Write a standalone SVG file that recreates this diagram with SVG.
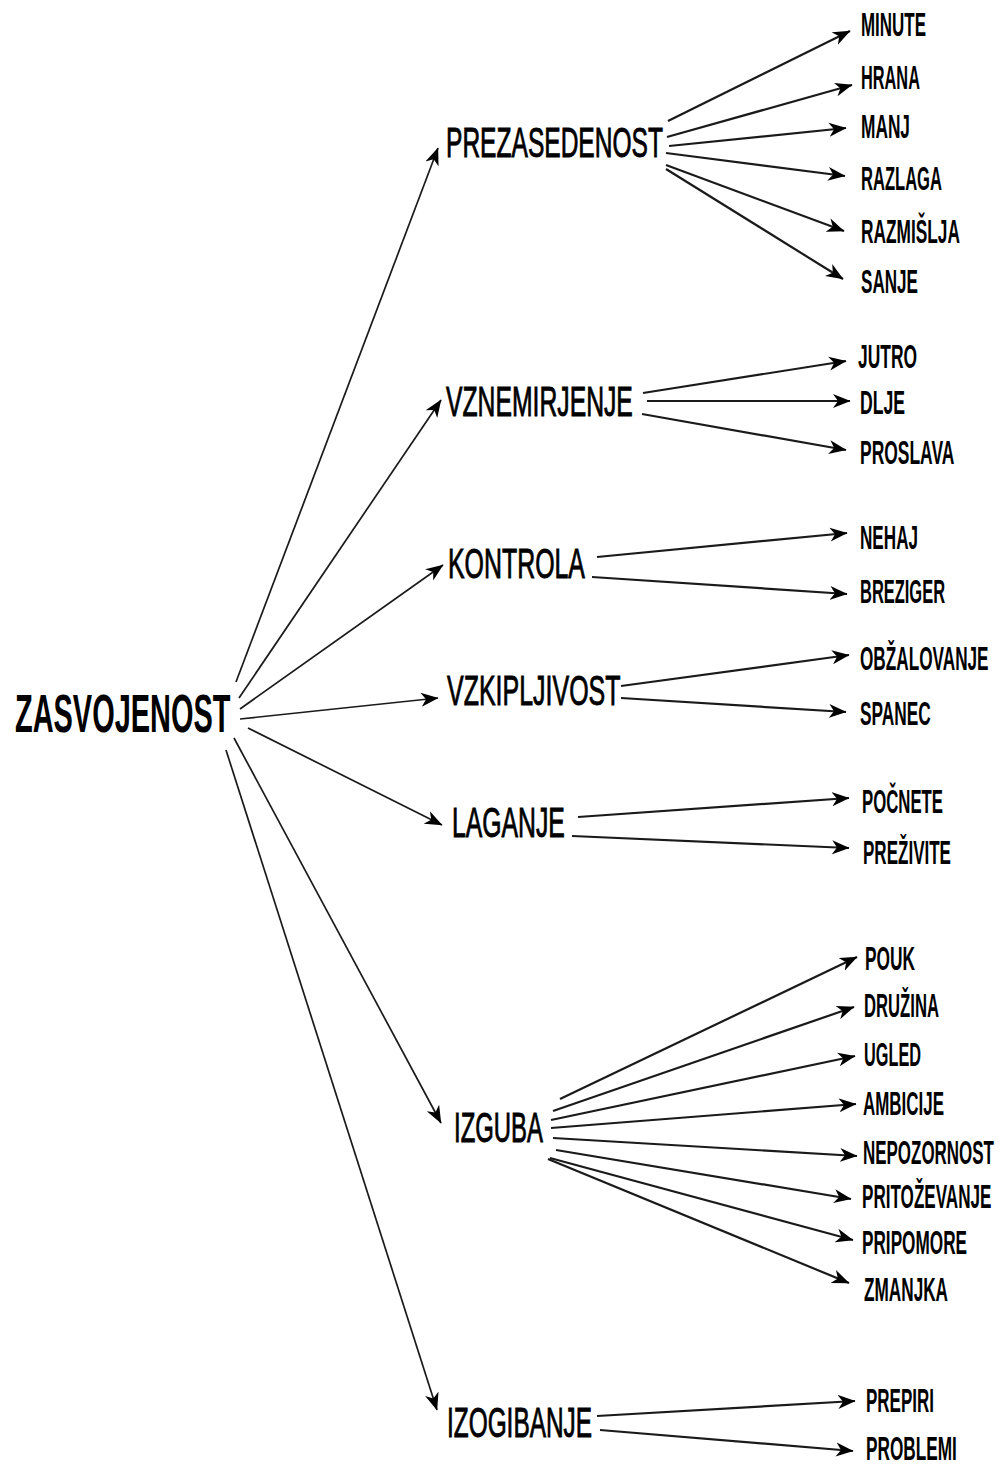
<svg xmlns="http://www.w3.org/2000/svg" width="1000" height="1468" viewBox="0 0 1000 1468">
<style>
text{font-family:"Liberation Sans",Arial,sans-serif;fill:#000;font-weight:bold}
.root{font-size:53px}
.mid{font-size:42px;font-weight:normal;stroke:#000;stroke-width:0.9px}
.leaf{font-size:33px}
.c line{stroke:#1a1a1a;stroke-width:2.2;fill:none;marker-end:url(#ah)}
.c .m{stroke-width:1.7}
</style>
<defs>
<marker id="ah" markerUnits="userSpaceOnUse" markerWidth="19" markerHeight="15" refX="17" refY="7.5" orient="auto">
<path d="M0,0.5 L17.5,7.5 L0,14.5 L5,7.5 Z" fill="#000"/>
</marker>
</defs>
<rect width="1000" height="1468" fill="#fff"/>
<g id="connectors" class="c">
<line class="m" x1="236" y1="682" x2="438" y2="148"/>
<line class="m" x1="239" y1="698" x2="441" y2="400"/>
<line class="m" x1="240" y1="709" x2="443" y2="565"/>
<line class="m" x1="240" y1="719" x2="438" y2="698"/>
<line class="m" x1="248" y1="728" x2="442" y2="825"/>
<line class="m" x1="234" y1="738" x2="441" y2="1123"/>
<line class="m" x1="226" y1="750" x2="437" y2="1410"/>
<line x1="668" y1="121" x2="850" y2="31"/>
<line x1="667" y1="137" x2="852" y2="85"/>
<line x1="669" y1="146" x2="846" y2="128"/>
<line x1="666" y1="153" x2="845" y2="176"/>
<line x1="666" y1="165" x2="844" y2="231"/>
<line x1="666" y1="169" x2="843" y2="279"/>
<line x1="643" y1="393" x2="846" y2="361"/>
<line x1="647" y1="401" x2="850" y2="401"/>
<line x1="642" y1="414" x2="846" y2="450"/>
<line x1="597" y1="557" x2="847" y2="533"/>
<line x1="592" y1="577" x2="847" y2="594"/>
<line x1="621" y1="686" x2="849" y2="655"/>
<line x1="621" y1="698" x2="846" y2="712"/>
<line x1="578" y1="817" x2="849" y2="798"/>
<line x1="572" y1="836" x2="849" y2="848"/>
<line x1="560" y1="1099" x2="857" y2="957"/>
<line x1="553" y1="1111" x2="854" y2="1007"/>
<line x1="551" y1="1120" x2="855" y2="1056"/>
<line x1="551" y1="1128" x2="856" y2="1104"/>
<line x1="553" y1="1138" x2="857" y2="1156"/>
<line x1="556" y1="1150" x2="851" y2="1199"/>
<line x1="550" y1="1158" x2="853" y2="1240"/>
<line x1="548" y1="1159" x2="849" y2="1283"/>
<line x1="597" y1="1416" x2="855" y2="1401"/>
<line x1="600" y1="1430" x2="853" y2="1451"/>
</g>
<g id="n-zasvojenost"><text class="root" transform="translate(15,732) scale(0.546,1)">ZASVOJENOST</text></g>
<g id="n-prezasedenost"><text class="mid" transform="translate(446,157) scale(0.585,1)">PREZASEDENOST</text></g>
<g id="n-vznemirjenje"><text class="mid" transform="translate(446,416) scale(0.589,1)">VZNEMIRJENJE</text></g>
<g id="n-kontrola"><text class="mid" transform="translate(448,578) scale(0.593,1)">KONTROLA</text></g>
<g id="n-vzkipljivost"><text class="mid" transform="translate(447,705) scale(0.595,1)">VZKIPLJIVOST</text></g>
<g id="n-laganje"><text class="mid" transform="translate(452,837) scale(0.59,1)">LAGANJE</text></g>
<g id="n-izguba"><text class="mid" transform="translate(454,1142) scale(0.569,1)">IZGUBA</text></g>
<g id="n-izogibanje"><text class="mid" transform="translate(447,1437) scale(0.581,1)">IZOGIBANJE</text></g>
<g id="n-minute"><text class="leaf" transform="translate(861,36) scale(0.514,1)">MINUTE</text></g>
<g id="n-hrana"><text class="leaf" transform="translate(861,89) scale(0.495,1)">HRANA</text></g>
<g id="n-manj"><text class="leaf" transform="translate(861,138) scale(0.524,1)">MANJ</text></g>
<g id="n-razlaga"><text class="leaf" transform="translate(861,190) scale(0.502,1)">RAZLAGA</text></g>
<g id="n-razmislja"><text class="leaf" transform="translate(861,243) scale(0.524,1)">RAZMIŠLJA</text></g>
<g id="n-sanje"><text class="leaf" transform="translate(861,293) scale(0.518,1)">SANJE</text></g>
<g id="n-jutro"><text class="leaf" transform="translate(858,368) scale(0.528,1)">JUTRO</text></g>
<g id="n-dlje"><text class="leaf" transform="translate(860,414) scale(0.534,1)">DLJE</text></g>
<g id="n-proslava"><text class="leaf" transform="translate(860,464) scale(0.529,1)">PROSLAVA</text></g>
<g id="n-nehaj"><text class="leaf" transform="translate(860,549) scale(0.519,1)">NEHAJ</text></g>
<g id="n-breziger"><text class="leaf" transform="translate(860,603) scale(0.499,1)">BREZIGER</text></g>
<g id="n-obzalovanje"><text class="leaf" transform="translate(860,670) scale(0.521,1)">OBŽALOVANJE</text></g>
<g id="n-spanec"><text class="leaf" transform="translate(860,725) scale(0.524,1)">SPANEC</text></g>
<g id="n-pocnete"><text class="leaf" transform="translate(862,813) scale(0.508,1)">POČNETE</text></g>
<g id="n-prezivite"><text class="leaf" transform="translate(863,864) scale(0.516,1)">PREŽIVITE</text></g>
<g id="n-pouk"><text class="leaf" transform="translate(865,970) scale(0.525,1)">POUK</text></g>
<g id="n-druzina"><text class="leaf" transform="translate(864,1017) scale(0.505,1)">DRUŽINA</text></g>
<g id="n-ugled"><text class="leaf" transform="translate(864,1066) scale(0.494,1)">UGLED</text></g>
<g id="n-ambicije"><text class="leaf" transform="translate(863,1115) scale(0.514,1)">AMBICIJE</text></g>
<g id="n-nepozornost"><text class="leaf" transform="translate(863,1164) scale(0.514,1)">NEPOZORNOST</text></g>
<g id="n-pritozevanje"><text class="leaf" transform="translate(862,1208) scale(0.518,1)">PRITOŽEVANJE</text></g>
<g id="n-pripomore"><text class="leaf" transform="translate(862,1254) scale(0.521,1)">PRIPOMORE</text></g>
<g id="n-zmanjka"><text class="leaf" transform="translate(864,1301) scale(0.521,1)">ZMANJKA</text></g>
<g id="n-prepiri"><text class="leaf" transform="translate(866,1412) scale(0.515,1)">PREPIRI</text></g>
<g id="n-problemi"><text class="leaf" transform="translate(866,1460) scale(0.522,1)">PROBLEMI</text></g>
</svg>
